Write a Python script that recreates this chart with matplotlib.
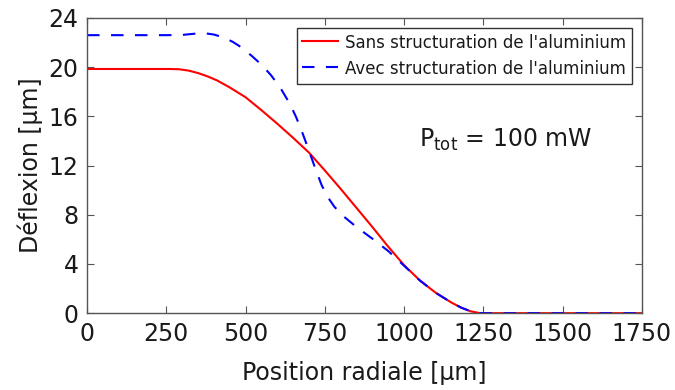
import numpy as np
import matplotlib
matplotlib.use('Agg')
from matplotlib import pyplot as plt

# Sans structuration (courbe rouge)
x_sans = [0, 260, 290, 320, 350, 380, 410, 450, 500, 550, 600, 650, 700, 750,
          800, 850, 900, 950, 1000, 1050, 1100, 1150, 1180, 1210, 1235, 1250, 1750]
y_sans = [19.85, 19.85, 19.83, 19.72, 19.52, 19.25, 18.92, 18.35, 17.55, 16.5,
          15.4, 14.25, 13.05, 11.6, 10.1, 8.55, 7.0, 5.4, 3.9, 2.65, 1.65,
          0.85, 0.45, 0.15, 0.02, 0.0, 0.0]

# Avec structuration (courbe bleue)
x_avec = [0, 250, 300, 340, 370, 400, 430, 460, 490, 520, 550, 580, 610, 640,
          660, 680, 700, 720, 740, 760, 780, 810, 850, 900, 950, 1000, 1050,
          1100, 1150, 1180, 1210, 1235, 1250, 1750]
y_avec = [22.6, 22.6, 22.62, 22.72, 22.76, 22.65, 22.42, 22.05, 21.55, 20.9,
          20.2, 19.35, 18.3, 17.0, 15.9, 14.6, 13.2, 11.75, 10.4, 9.4, 8.65,
          7.85, 7.0, 6.05, 5.05, 3.85, 2.65, 1.65, 0.85, 0.45, 0.15, 0.02,
          0.0, 0.0]

xticks = [0, 250, 500, 750, 1000, 1250, 1500, 1750]
yticks = [0, 4, 8, 12, 16, 20, 24]

fig = plt.figure(figsize=(6.75, 3.9), dpi=100)
ax = fig.add_subplot(111)
fig.subplots_adjust(left=0.129, right=0.951, top=0.954, bottom=0.197)

ax.plot(x_sans, y_sans, color='#ff0000', lw=1.5, label="Sans structuration de l'aluminium")
ax.plot(x_avec, y_avec, color='#0000ff', lw=1.5, linestyle=(0, (6, 5.5)),
        label="Avec structuration de l'aluminium")

ax.set_xlim(0, 1750)
ax.set_ylim(0, 24)
ax.set_xticks(xticks)
ax.set_yticks(yticks)
ax.tick_params(direction='in', top=True, right=True, labelsize=17, length=5,
               color='#555555', pad=6, labelcolor='#1a1a1a')
for s in ax.spines.values():
    s.set_color('#555555')
    s.set_linewidth(1.0)

ax.set_xlabel('Position radiale [µm]', fontsize=17, labelpad=11, color='#1a1a1a')
ax.set_ylabel('Déflexion [µm]', fontsize=17, labelpad=4, color='#1a1a1a')

ax.text(1321, 14.1, r'P$_{\mathrm{tot}}$ = 100 mW', fontsize=17,
        ha='center', va='center', color='#1a1a1a')

leg = ax.legend(loc='upper right', fontsize=12, fancybox=False,
                edgecolor='#333333', framealpha=1, handlelength=2.15,
                handleheight=1.1, handletextpad=0.4,
                borderaxespad=0.6, labelspacing=0.5, borderpad=0.35)
leg.get_frame().set_linewidth(1.0)
for t in leg.get_texts():
    t.set_color('#1a1a1a')

fig.savefig('out.png', dpi=100)
